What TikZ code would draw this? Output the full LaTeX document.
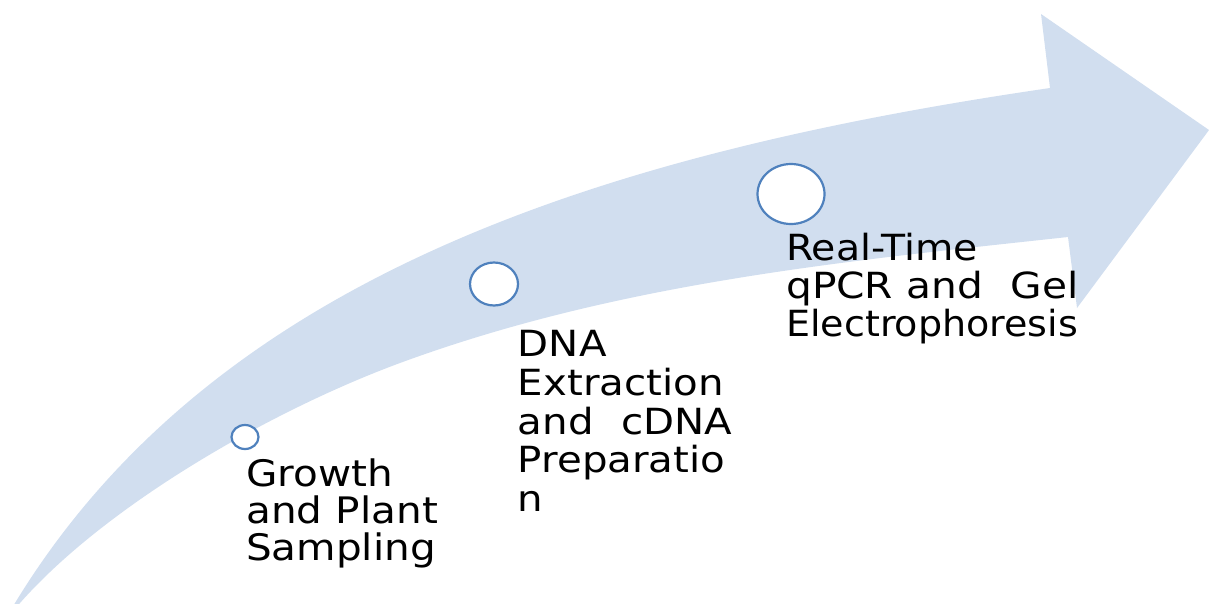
\documentclass[tikz,border=0pt]{standalone}
\usepackage{graphicx}
\usepackage{fontspec}
\setmainfont{DejaVu Sans}
\usetikzlibrary{shapes.geometric}
\definecolor{arrowfill}{RGB}{209,222,239}
\definecolor{ringblue}{RGB}{79,129,189}
\newcommand\sx[2][1.11]{\scalebox{#1}[1]{#2}}
\begin{document}
\begin{tikzpicture}[x=1pt,y=-1pt,
  ring/.style={ellipse,draw=ringblue,fill=white,line width=2.2pt,inner sep=0pt},
  steplabel/.style={anchor=base west,inner sep=0pt,align=left,text=black}]
\useasboundingbox (0,0) rectangle (1209,603);
\begin{scope}
\clip (0,0) rectangle (1209,603);
\fill[arrowfill] (4,621) -- (15,603) .. controls (215,275) and (605,153) .. (1050,88)
  -- (1041,14) -- (1209,130) -- (1077,308) -- (1068,237)
  .. controls (848,261) and (620,282) .. (400,363)
  .. controls (270,411) and (106,505.5) .. (20,603) -- cycle;
\end{scope}
\node[ring,minimum width=27pt,minimum height=24pt] (c1) at (245,437) {};
\node[ring,minimum width=48pt,minimum height=43pt] (c2) at (494,284) {};
\node[ring,minimum width=67pt,minimum height=60pt] (c3) at (791,194) {};
\node[steplabel,text width=220pt,font=\fontsize{36.5}{37.3}\selectfont] (t1) at (246,486)
  {\sx{Growth}\\\sx{and Plant}\\\sx{Sampling}};
\node[steplabel,text width=240pt,font=\fontsize{36}{38.75}\selectfont] (t2) at (517.7,356.7)
  {\sx[1.12]{DNA}\\\sx[1.12]{Extraction}\\\sx[1.12]{\makebox[191.3pt]{and\hfill cDNA}}\\\sx[1.12]{Preparatio}\\\sx[1.12]{n}};
\node[steplabel,text width=320pt,font=\fontsize{36}{38.3}\selectfont] (t3) at (786,260)
  {\sx[1.094]{Real-Time}\\\sx[1.13]{\makebox[258.6pt]{qPCR and\hfill Gel}}\\\sx[1.057]{Electrophoresis}};
\end{tikzpicture}
\end{document}
